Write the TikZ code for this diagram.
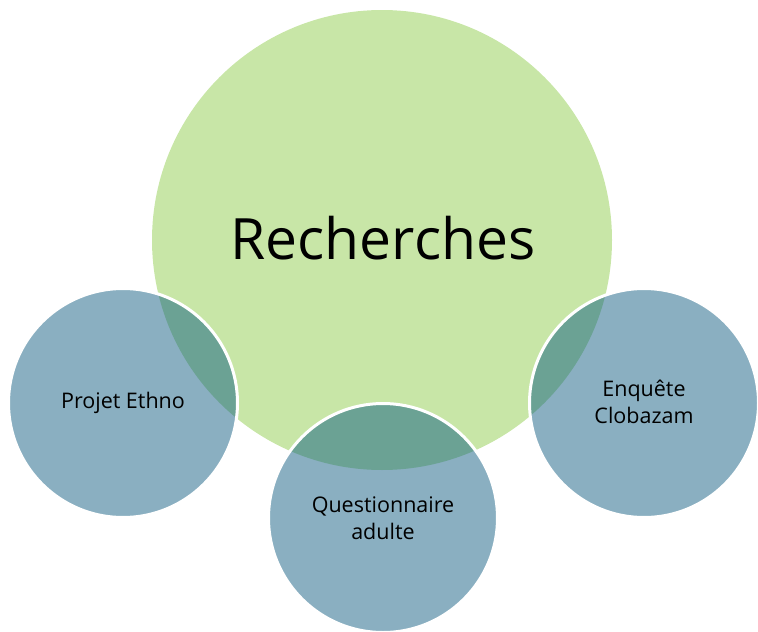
\documentclass[tikz,border=0pt]{standalone}
\usepackage{fontspec}
\setmainfont{Open Sans}
\definecolor{bigG}{HTML}{C8E6A7}
\definecolor{smallB}{HTML}{8AAFC1}
\definecolor{overlapC}{HTML}{6BA294}
\tikzset{
  bigcirc/.style={circle,fill=bigG,minimum size=460pt,inner sep=0pt},
  smallcirc/.style={circle,fill=smallB,minimum size=229pt,inner sep=0pt},
  lbl/.style={font=\fontsize{21.5}{27}\selectfont,align=center,text=black},
}
\begin{document}
\begin{tikzpicture}[x=1pt,y=-1pt]
\useasboundingbox (0,0) rectangle (758,632);
\node[bigcirc] (big) at (382,240) {};
\foreach \n/\cx/\cy in {L/123/403, B/383/518, R/644/403}{
  \node[smallcirc] (\n) at (\cx,\cy) {};
  \begin{scope}
    \clip (\cx,\cy) circle (114.5);
    \fill[overlapC] (382,240) circle (230);
  \end{scope}
  \draw[white,line width=3pt] (\cx,\cy) circle (114.5);
}
\node[font=\fontsize{57}{66}\selectfont] (t) at (383,238) {Recherches};
\node[lbl] (tL) at (123,403) {Projet Ethno};
\node[lbl] (tB) at (383,518) {Questionnaire\\adulte};
\node[lbl] (tR) at (644,402) {Enquête\\Clobazam};
\end{tikzpicture}
\end{document}
